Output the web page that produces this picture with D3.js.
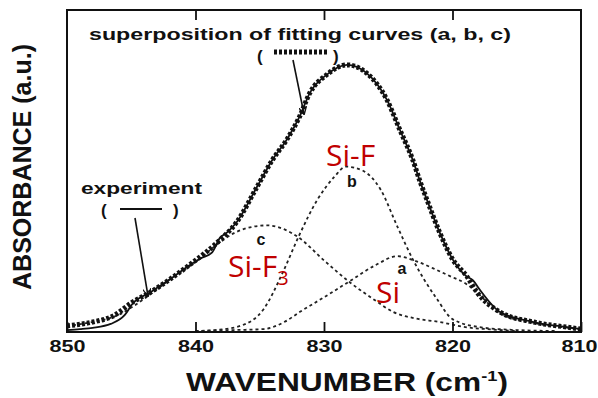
<!DOCTYPE html>
<html>
<head>
<meta charset="utf-8">
<script src="https://cdnjs.cloudflare.com/ajax/libs/d3/7.8.5/d3.min.js"></script>
<style>
  body { margin: 0; background: #fff; }
  svg { display: block; }
  .lbl { font-family: "Liberation Sans", Arial, sans-serif; font-weight: bold; fill: #111; }
  .red { font-family: "Open Sans", "Noto Sans", sans-serif; fill: #c00000; }
</style>
</head>
<body>
<div id="chart"></div>
<script>
// tick labels
const xTicks = [850, 840, 830, 820, 810];

// measured spectrum (solid)
const expWn  = [850, 849, 848, 846.6, 845.5, 844.9, 843.5, 842, 840.2, 839.5, 838.7, 838.1, 837.6, 836.8, 835.2, 834, 832.9, 831.9, 831.1, 829.8, 828.2, 826.7, 825.1, 824.1, 823.1, 822.5, 822, 821, 820, 818.9, 818.4, 817.9, 816.3, 813.7, 811.1, 810];
const expAbs = [0.003, 0.006, 0.01, 0.022, 0.05, 0.085, 0.121, 0.161, 0.212, 0.228, 0.245, 0.29, 0.305, 0.339, 0.45, 0.534, 0.596, 0.668, 0.742, 0.798, 0.829, 0.804, 0.72, 0.627, 0.534, 0.463, 0.41, 0.307, 0.224, 0.17, 0.158, 0.13, 0.059, 0.028, 0.012, 0.006];

// superposition of fitting curves (thick dotted)
const fitWn  = [850, 848, 846.4, 844.9, 843.5, 842, 840.2, 838.3, 836.8, 835.2, 834, 832.9, 831.9, 831.1, 829.8, 828.2, 826.7, 825.1, 824.1, 823.1, 822.5, 822, 821, 820, 818.9, 818.1, 816.3, 813.7, 811.1, 810];
const fitAbs = [0.016, 0.028, 0.047, 0.09, 0.121, 0.161, 0.214, 0.276, 0.339, 0.45, 0.534, 0.596, 0.668, 0.742, 0.798, 0.829, 0.804, 0.72, 0.627, 0.534, 0.463, 0.41, 0.307, 0.224, 0.171, 0.121, 0.059, 0.028, 0.012, 0.006];

// component a (Si)
const aWn  = [840, 837, 834.7, 833, 831.9, 830, 828, 826, 824.3, 822.8, 821.5, 820.2, 818.9, 818.1, 816.3, 813.7, 811, 810];
const aAbs = [0, 0.003, 0.006, 0.03, 0.059, 0.105, 0.155, 0.205, 0.233, 0.217, 0.195, 0.171, 0.146, 0.12, 0.055, 0.025, 0.01, 0.006];

// component b (Si-F)
const bWn  = [840, 838.5, 836.5, 834.7, 833.2, 832, 830.5, 829.2, 828.3, 827, 825.6, 824.3, 823.1, 821.2, 820, 817.9, 815, 812];
const bAbs = [0, 0.003, 0.016, 0.068, 0.183, 0.292, 0.41, 0.48, 0.512, 0.5, 0.441, 0.326, 0.224, 0.099, 0.037, 0.012, 0.003, 0];

// component c (Si-F3)
const cWn  = [850, 848, 846, 844, 842, 840, 838.3, 837, 835.5, 834.4, 833, 832, 830, 828, 826, 824.6, 823, 821, 819, 817, 815];
const cAbs = [0.016, 0.028, 0.05, 0.1, 0.16, 0.215, 0.27, 0.305, 0.325, 0.329, 0.315, 0.292, 0.22, 0.152, 0.095, 0.059, 0.04, 0.028, 0.012, 0.005, 0];

const W = 598, H = 398;
const mLeft = 67, mRight = 581, mTop = 10, mBottom = 332;

const svg = d3.select('#chart').append('svg')
    .attr('width', W)
    .attr('height', H);

const x = d3.scaleLinear().domain([850, 810]).range([mLeft, mRight]);
const y = d3.scaleLinear().domain([0, 1]).range([mBottom - 1, mTop]);

const zip = (wn, ab) => wn.map((w, i) => ({ w: w, a: ab[i] }));
const line = d3.line()
    .x(d => x(d.w))
    .y(d => y(d.a))
    .curve(d3.curveMonotoneX);

// components, thin dotted
[[aWn, aAbs], [bWn, bAbs], [cWn, cAbs]].forEach(s => {
    svg.append('path')
        .datum(zip(s[0], s[1]))
        .attr('d', line)
        .attr('fill', 'none')
        .attr('stroke', '#222')
        .attr('stroke-width', 1.8)
        .attr('stroke-dasharray', '3,3');
});

// experiment, solid
svg.append('path')
    .datum(zip(expWn, expAbs))
    .attr('d', line)
    .attr('fill', 'none')
    .attr('stroke', '#111')
    .attr('stroke-width', 1.8);

// fit, thick dotted
svg.append('path')
    .datum(zip(fitWn, fitAbs))
    .attr('d', line)
    .attr('fill', 'none')
    .attr('stroke', '#111')
    .attr('stroke-width', 5)
    .attr('stroke-dasharray', '3,2');

// frame
svg.append('rect')
    .attr('x', mLeft).attr('y', mTop)
    .attr('width', mRight - mLeft).attr('height', mBottom - mTop)
    .attr('fill', 'none')
    .attr('stroke', '#111')
    .attr('stroke-width', 2);

// bottom axis, ticks pointing in
const xAxis = svg.append('g')
    .attr('transform', `translate(0,${mBottom})`)
    .call(d3.axisBottom(x).tickValues(xTicks).tickSizeInner(-10).tickSizeOuter(0).tickFormat(d3.format('d')));
xAxis.select('.domain').remove();
xAxis.selectAll('line').attr('stroke', '#111').attr('stroke-width', 1.8);
xAxis.selectAll('text')
    .attr('class', 'lbl')
    .attr('y', 20).attr('dy', null)
    .attr('font-size', 17)
    .attr('textLength', 36)
    .attr('lengthAdjust', 'spacingAndGlyphs');
// last label sits against the right edge
xAxis.selectAll('.tick').filter(d => d === 810).select('text').attr('x', -2);

// top axis, same ticks, no labels
const xTop = svg.append('g')
    .attr('transform', `translate(0,${mTop})`)
    .call(d3.axisTop(x).tickValues(xTicks.slice(1, 4)).tickSizeInner(-10).tickSizeOuter(0).tickFormat(''));
xTop.select('.domain').remove();
xTop.selectAll('line').attr('stroke', '#111').attr('stroke-width', 1.8);

// axis titles
const xt = svg.append('text')
    .attr('class', 'lbl')
    .attr('x', 186).attr('y', 391)
    .attr('font-size', 26)
    .attr('textLength', 322)
    .attr('lengthAdjust', 'spacingAndGlyphs');
xt.append('tspan').text('WAVENUMBER (cm');
xt.append('tspan').attr('font-size', 15).attr('dy', -10).text('-1');
xt.append('tspan').attr('dy', 10).text(')');

svg.append('text')
    .attr('class', 'lbl')
    .attr('transform', 'translate(31,290) rotate(-90)')
    .attr('font-size', 25)
    .attr('textLength', 246)
    .attr('lengthAdjust', 'spacingAndGlyphs')
    .text('ABSORBANCE (a.u.)');

// annotations
svg.append('text')
    .attr('class', 'lbl')
    .attr('x', 89).attr('y', 40)
    .attr('font-size', 17)
    .attr('textLength', 422)
    .attr('lengthAdjust', 'spacingAndGlyphs')
    .text('superposition of  fitting curves (a, b, c)');

svg.append('text').attr('class', 'lbl').attr('x', 257).attr('y', 62).attr('font-size', 17).text('(');
svg.append('text').attr('class', 'lbl').attr('x', 333).attr('y', 62).attr('font-size', 17).text(')');
svg.append('line')
    .attr('x1', 274).attr('x2', 328).attr('y1', 52).attr('y2', 52)
    .attr('stroke', '#111').attr('stroke-width', 5).attr('stroke-dasharray', '3,2');

svg.append('text')
    .attr('class', 'lbl')
    .attr('x', 81).attr('y', 194)
    .attr('font-size', 17)
    .attr('textLength', 121)
    .attr('lengthAdjust', 'spacingAndGlyphs')
    .text('experiment');
svg.append('text').attr('class', 'lbl').attr('x', 101).attr('y', 216).attr('font-size', 17).text('(');
svg.append('text').attr('class', 'lbl').attr('x', 173).attr('y', 216).attr('font-size', 17).text(')');
svg.append('line')
    .attr('x1', 120).attr('x2', 162).attr('y1', 209).attr('y2', 209)
    .attr('stroke', '#111').attr('stroke-width', 2);

// arrows
const defs = svg.append('defs');
defs.append('marker')
    .attr('id', 'arr')
    .attr('viewBox', '0 0 10 10')
    .attr('refX', 9).attr('refY', 5)
    .attr('markerWidth', 8).attr('markerHeight', 8)
    .attr('markerUnits', 'userSpaceOnUse')
    .attr('orient', 'auto')
    .append('path')
    .attr('d', 'M0,0 L10,5 L0,10')
    .attr('fill', 'none')
    .attr('stroke', '#111')
    .attr('stroke-width', 1.6);

[[135, 218, 148, 296], [293, 60, 304, 114]].forEach(a => {
    svg.append('line')
        .attr('x1', a[0]).attr('y1', a[1])
        .attr('x2', a[2]).attr('y2', a[3])
        .attr('stroke', '#111')
        .attr('stroke-width', 1.6)
        .attr('marker-end', 'url(#arr)');
});

// component letters
[['b', 352, 187], ['c', 261, 245], ['a', 402, 274]].forEach(t => {
    svg.append('text')
        .attr('class', 'lbl')
        .attr('x', t[1]).attr('y', t[2])
        .attr('text-anchor', 'middle')
        .attr('font-size', 16)
        .text(t[0]);
});

// red species labels
svg.append('text').attr('class', 'red')
    .attr('x', 326).attr('y', 166).attr('font-size', 30).text('Si-F');
const f3 = svg.append('text').attr('class', 'red')
    .attr('x', 228).attr('y', 277).attr('font-size', 30);
f3.append('tspan').text('Si-F');
f3.append('tspan').attr('font-size', 20).attr('dy', 8).text('3');
svg.append('text').attr('class', 'red')
    .attr('x', 376).attr('y', 303).attr('font-size', 30).text('Si');
</script>
</body>
</html>
